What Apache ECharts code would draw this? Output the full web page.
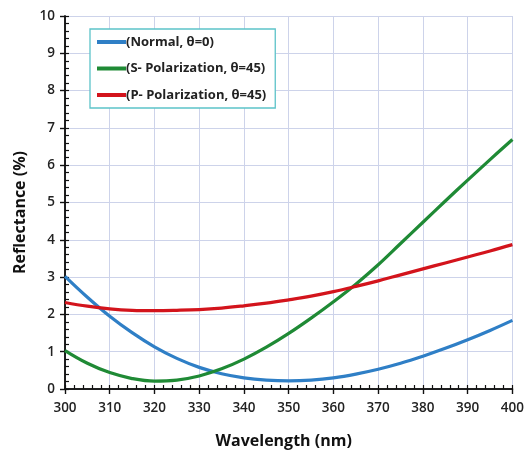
<!DOCTYPE html>
<html>
<head>
<meta charset="utf-8">
<script src="https://cdn.jsdelivr.net/npm/echarts@6/dist/echarts.min.js"></script>
<style>
  html, body { margin: 0; padding: 0; background: #ffffff; }
  #chart { width: 527px; height: 454px; }
</style>
</head>
<body>
<div id="chart"></div>
<script>
// Wavelength samples (nm)
const wavelength = [300, 305, 310, 315, 320, 325, 330, 335, 340, 345, 350,
                    355, 360, 365, 370, 375, 380, 385, 390, 395, 400];

// Reflectance (%) for each polarisation case
const normal0 = [3.02, 2.46, 1.95, 1.51, 1.13, 0.82, 0.58, 0.41, 0.30, 0.24, 0.22,
                 0.24, 0.30, 0.40, 0.53, 0.69, 0.88, 1.09, 1.32, 1.57, 1.84];
const sPol45  = [1.03, 0.69, 0.44, 0.28, 0.21, 0.24, 0.35, 0.54, 0.80, 1.12, 1.49,
                 1.90, 2.34, 2.81, 3.33, 3.90, 4.47, 5.04, 5.60, 6.15, 6.69];
const pPol45  = [2.32, 2.22, 2.15, 2.11, 2.10, 2.11, 2.13, 2.17, 2.23, 2.30, 2.39,
                 2.49, 2.61, 2.75, 2.90, 3.06, 3.22, 3.38, 3.54, 3.70, 3.87];

const seriesNames = ['(Normal, θ=0)', '(S- Polarization, θ=45)', '(P- Polarization, θ=45)'];
const seriesColors = ['#2f7fc6', '#1f8a35', '#d3141c'];
const seriesData = [normal0, sPol45, pPol45];

// Axis ranges: major step and minor step
const xTicks = { min: 300, max: 400, interval: 10, minor: 2 };
const yTicks = { min: 0, max: 10, interval: 1, minor: 0.2 };

// Minor tick positions along each axis
function tickList(r) {
  const out = [];
  const n = Math.round((r.max - r.min) / r.minor);
  for (let i = 0; i <= n; i++) out.push(String(+(r.min + i * r.minor).toFixed(2)));
  return out;
}
const xMinorTicks = tickList(xTicks);
const yMinorTicks = tickList(yTicks);

const font = '"Open Sans", "DejaVu Sans", sans-serif';
const gridColor = '#cdd3ea';
const inkColor = '#111111';

function pairs(xs, ys) { return xs.map((x, i) => [x, ys[i]]); }

// Category axis laid over the real axis line; every category gets an
// inward tick, giving the dense inner tick row.
function innerTickAxis(ticks, position) {
  return {
    type: 'category', data: ticks, boundaryGap: false,
    gridIndex: 0, position: position, offset: 0, z: 3,
    axisLine: { show: true, onZero: false, lineStyle: { color: inkColor, width: 1.5 } },
    axisTick: { show: true, inside: true, interval: 0, length: 4, lineStyle: { color: inkColor, width: 1.2 } },
    axisLabel: { show: false },
    splitLine: { show: false }
  };
}

const chart = echarts.init(document.getElementById('chart'), null, { renderer: 'canvas' });

const option = {
  animation: false,
  backgroundColor: '#ffffff',
  grid: { left: 65, right: 12, top: 16, bottom: 63 },
  legend: {
    orient: 'vertical',
    left: 90,
    top: 29,
    padding: [5, 9, 5, 7],
    borderColor: '#5cc3c9',
    borderWidth: 1.3,
    backgroundColor: '#ffffff',
    itemWidth: 29,
    itemHeight: 4,
    itemGap: 10.5,
    icon: 'rect',
    textStyle: {
      fontFamily: font, fontSize: 13, fontWeight: 'bold', color: '#222',
      lineHeight: 16, padding: [0, 0, 0, -5]
    },
    data: seriesNames
  },
  xAxis: [
    {
      type: 'value', min: xTicks.min, max: xTicks.max, interval: xTicks.interval,
      name: 'Wavelength (nm)', nameLocation: 'middle', nameGap: 44,
      nameTextStyle: { fontFamily: font, fontSize: 16, fontWeight: 'bold', color: inkColor, padding: [0, 10, 0, 0] },
      axisLine: { show: true, onZero: false, lineStyle: { color: inkColor, width: 1.5 } },
      axisTick: { show: true, inside: false, length: 5, lineStyle: { color: inkColor, width: 1.4 } },
      axisLabel: { fontFamily: font, fontSize: 13.5, fontWeight: 600, color: '#222', margin: 12 },
      splitLine: { show: true, lineStyle: { color: gridColor, width: 1 } }
    },
    innerTickAxis(xMinorTicks, 'bottom')
  ],
  yAxis: [
    {
      type: 'value', min: yTicks.min, max: yTicks.max, interval: yTicks.interval,
      name: 'Reflectance (%)', nameLocation: 'middle', nameGap: 33,
      nameTextStyle: { fontFamily: font, fontSize: 16, fontWeight: 'bold', color: inkColor, padding: [0, 20, 0, 0] },
      axisLine: { show: true, onZero: false, lineStyle: { color: inkColor, width: 1.5 } },
      axisTick: { show: true, inside: false, length: 5, lineStyle: { color: inkColor, width: 1.4 } },
      axisLabel: { fontFamily: font, fontSize: 13.5, fontWeight: 600, color: '#222', margin: 10 },
      splitLine: { show: true, lineStyle: { color: gridColor, width: 1 } }
    },
    innerTickAxis(yMinorTicks, 'left')
  ],
  series: seriesNames.map((name, i) => ({
    name: name,
    type: 'line',
    xAxisIndex: 0,
    yAxisIndex: 0,
    smooth: 0.4,
    showSymbol: false,
    symbol: 'none',
    color: seriesColors[i],
    lineStyle: { color: seriesColors[i], width: 3.2 },
    data: pairs(wavelength, seriesData[i])
  }))
};

chart.setOption(option);
</script>
</body>
</html>
